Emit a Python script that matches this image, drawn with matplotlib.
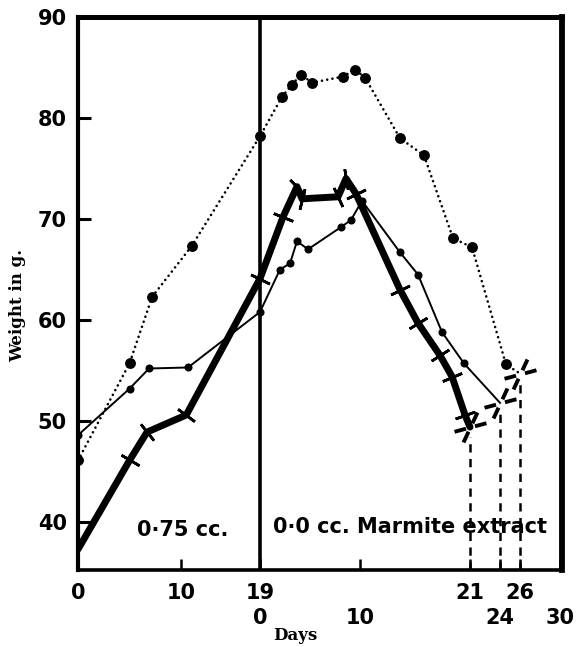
import numpy as np
import matplotlib
matplotlib.use("Agg")
import matplotlib.pyplot as plt
from matplotlib.path import Path

# ---------------- data ----------------
PHASE1_LEN = 19  # days on 0.75 cc. before switching to 0.0 cc.

# Series A: dotted line, large dots
a1_days = [0, 5, 7.2, 11.2, 19]
a1_wt = [46.1, 55.7, 62.3, 67.3, 78.2]
a2_days = [2.2, 3.2, 4.1, 5.2, 8.3, 9.5, 10.5, 14.0, 16.4, 19.3, 21.2, 24.6, 26]
a2_wt = [82.1, 83.3, 84.3, 83.5, 84.1, 84.8, 84.0, 78.0, 76.3, 68.1, 67.2, 55.6, 54.7]

# Series B: thin line, small dots
b1_days = [0, 5, 6.9, 10.8, 19]
b1_wt = [48.6, 53.2, 55.2, 55.3, 60.8]
b2_days = [2.0, 3.0, 3.7, 4.8, 8.1, 9.1, 10.2, 14.0, 15.8, 18.2, 20.4, 24]
b2_wt = [65.0, 65.6, 67.8, 67.0, 69.2, 69.9, 71.8, 66.7, 64.5, 58.8, 55.7, 51.8]

# Series C: thick line with cross ticks
c1_days = [0, 5, 6.7, 10.6, 19]
c1_wt = [37.3, 46.1, 48.9, 50.6, 64.1]
c2_days = [2.3, 3.7, 4.2, 7.8, 8.6, 9.6, 14.0, 15.8, 18.0, 19.2, 20.5, 21]
c2_wt = [70.2, 73.2, 72.0, 72.2, 74.0, 72.5, 63.0, 59.7, 56.5, 54.4, 50.6, 49.4]

y_ticks = [40, 50, 60, 70, 80, 90]
row1_phase1 = [0, 10, 19]          # phase-1 day labels
row1_phase2 = [21, 26]             # phase-2 day labels (upper row)
row2_phase2 = [0, 10, 24, 30]      # phase-2 day labels (lower row)


def unify(p1_days, p1_wt, p2_days, p2_wt):
    t = np.concatenate([np.asarray(p1_days, float),
                        PHASE1_LEN + np.asarray(p2_days, float)])
    w = np.concatenate([np.asarray(p1_wt, float), np.asarray(p2_wt, float)])
    return t, w


a_t, a_w = unify(a1_days, a1_wt, a2_days, a2_wt)
b_t, b_w = unify(b1_days, b1_wt, b2_days, b2_wt)
c_t, c_w = unify(c1_days, c1_wt, c2_days, c2_wt)

# piecewise-linear day axis as drawn in the original
T_KNOTS = [-1000.0, 0.0, 10.0, 19.0, 1000.0]
U_KNOTS = [-10300.0, 0.0, 103.0, 182.0, 182.0 + 981.0 * 10.0]


def fwd(t):
    return np.interp(t, T_KNOTS, U_KNOTS)


def inv(u):
    return np.interp(u, U_KNOTS, T_KNOTS)


# ---------------- figure ----------------
W, H = 576, 647
fig = plt.figure(figsize=(W / 100, H / 100), dpi=100)
ax = fig.add_axes([78 / W, 1 - 570 / H, 484 / W, 553 / H])
ax.set_xscale('function', functions=(fwd, inv))
XMAX = 49.2
ax.set_xlim(0, XMAX)
ax.set_ylim(35.25, 90)

K = 'black'
NUM_FONT = dict(family='DejaVu Sans', weight='bold', size=15)

# dividing line between the two regimes
ax.axvline(PHASE1_LEN, color=K, lw=2.6, zorder=2)

# Series A
ax.plot(a_t, a_w, color=K, lw=1.9, linestyle=(0, (0.01, 2.0)),
        dash_capstyle='round', zorder=3)
ax.plot(a_t[:-1], a_w[:-1], 'o', color=K, ms=6.8, zorder=4)

# Series B
ax.plot(b_t, b_w, color=K, lw=1.4, zorder=3)
ax.plot(b_t[:-1], b_w[:-1], 'o', color=K, ms=4.8, zorder=4)

# Series C
ax.plot(c_t, c_w, color=K, lw=5.0, solid_joinstyle='round',
        solid_capstyle='round', zorder=3)
px_per_g = 553 / (90 - 35.25)
cx = fwd(c_t)
cy = c_w * px_per_g
for i in range(1, len(c_t) - 1):
    ang = np.degrees(np.arctan2(cy[i + 1] - cy[i - 1], cx[i + 1] - cx[i - 1]))
    ax.plot(c_t[i], c_w[i], marker=(2, 2, ang), ms=15, mew=1.9,
            color=K, zorder=5)

# end-point stars and dashed drop lines
verts, codes = [], []
for ang in (15, 65, 195, 245):
    r = np.deg2rad(ang)
    verts += [(0.28 * np.cos(r), 0.28 * np.sin(r)), (np.cos(r), np.sin(r))]
    codes += [Path.MOVETO, Path.LINETO]
star = Path(verts, codes)

end_t = np.array([c_t[-1], b_t[-1], a_t[-1]])
end_w = np.array([c_w[-1], b_w[-1], a_w[-1]])
ax.vlines(end_t, ax.get_ylim()[0], end_w - 1.0, colors=K, lw=1.8,
          linestyles=(0, (3.3, 2.6)), zorder=2)
ax.plot(end_t, end_w, linestyle='none', marker=star, ms=23, mew=2.8,
        mec=K, mfc='none', zorder=6)

# spines
ax.spines['left'].set_linewidth(3.0)
ax.spines['bottom'].set_linewidth(2.6)
ax.spines['top'].set_linewidth(3.6)
ax.spines['right'].set_linewidth(4.2)

# y axis
ax.set_yticks(y_ticks, [str(v) for v in y_ticks])
ax.tick_params(axis='y', direction='in', length=9, width=2.2, pad=8)
for lab in ax.get_yticklabels():
    lab.set_fontproperties(matplotlib.font_manager.FontProperties(**NUM_FONT))

# x axis, upper row of labels
row1_t = list(row1_phase1) + [PHASE1_LEN + d for d in row1_phase2]
row1_lab = [str(d) for d in row1_phase1] + [str(d) for d in row1_phase2]
ax.set_xticks(row1_t, row1_lab)
ax.xaxis.set_minor_locator(matplotlib.ticker.NullLocator())
ax.tick_params(axis='x', direction='in', length=8, width=1.8, pad=9.5)
for lab in ax.get_xticklabels():
    lab.set_fontproperties(matplotlib.font_manager.FontProperties(**NUM_FONT))

# x axis, lower row of labels (phase 2 days)
ax2 = ax.twiny()
ax2.set_xscale('function', functions=(fwd, inv))
ax2.set_xlim(0, XMAX)
ax2.xaxis.set_ticks_position('bottom')
row2_t = [PHASE1_LEN + d for d in row2_phase2]
ax2.set_xticks(row2_t, [str(d) for d in row2_phase2])
ax2.xaxis.set_minor_locator(matplotlib.ticker.NullLocator())
ax2.tick_params(axis='x', direction='in', length=8, width=1.8, pad=27)
for lab in ax2.get_xticklabels():
    lab.set_fontproperties(matplotlib.font_manager.FontProperties(**NUM_FONT))
for s in ax2.spines.values():
    s.set_visible(False)

# annotations
ax.text(0.217, 0.072, '0·75 cc.', transform=ax.transAxes, ha='center',
        va='center', **NUM_FONT)
ax.text(0.686, 0.078, '0·0 cc. Marmite extract', transform=ax.transAxes,
        ha='center', va='center', **NUM_FONT)

ax.set_ylabel('Weight in g.', family='DejaVu Serif', weight='bold',
              size=12, va='center')
ax.yaxis.set_label_coords(-0.124, 0.479)
ax.text(0.45, -0.119, 'Days', transform=ax.transAxes, ha='center',
        va='center', family='DejaVu Serif', weight='bold', size=12)

fig.savefig('out.png', dpi=100, facecolor='white')
